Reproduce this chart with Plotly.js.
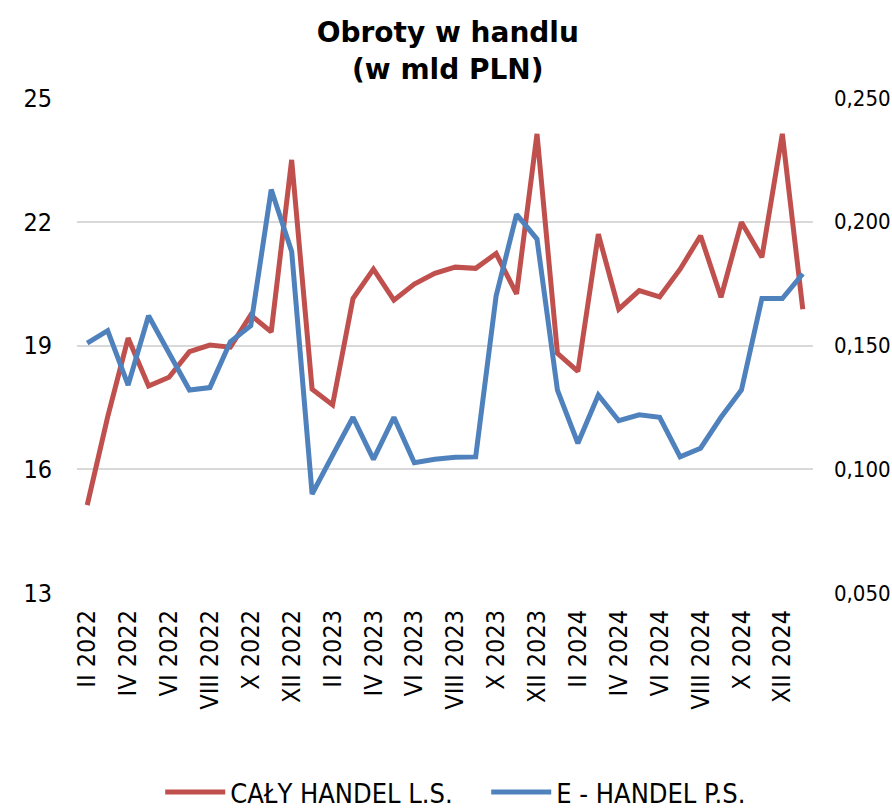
<!DOCTYPE html>
<html>
<head>
<meta charset="utf-8">
<script src="https://cdn.plot.ly/plotly-3.0.1.min.js"></script>
<style>html,body{margin:0;padding:0;background:#fff;}#chart{width:892px;height:811px;}</style>
</head>
<body>
<div id="chart"></div>
<script>
var months = ["II 2022","III 2022","IV 2022","V 2022","VI 2022","VII 2022","VIII 2022","IX 2022","X 2022","XI 2022","XII 2022",
  "I 2023","II 2023","III 2023","IV 2023","V 2023","VI 2023","VII 2023","VIII 2023","IX 2023","X 2023","XI 2023","XII 2023",
  "I 2024","II 2024","III 2024","IV 2024","V 2024","VI 2024","VII 2024","VIII 2024","IX 2024","X 2024","XI 2024","XII 2024",
  "I 2025"];
var calyHandel = [15.13,17.27,19.18,18.02,18.23,18.85,19.01,18.96,19.74,19.33,23.50,
  17.94,17.56,20.14,20.85,20.10,20.49,20.75,20.90,20.87,21.23,20.25,24.13,
  18.81,18.37,21.70,19.88,20.33,20.18,20.85,21.66,20.17,21.99,21.14,24.13,
  19.88];
var eHandel = [0.151,0.156,0.134,0.162,0.147,0.132,0.133,0.1515,0.158,0.213,0.188,
  0.090,0.1056,0.121,0.104,0.121,0.1026,0.104,0.1048,0.105,0.170,0.203,0.193,
  0.132,0.1105,0.130,0.1196,0.122,0.121,0.105,0.1085,0.121,0.132,0.169,0.169,
  0.179];
var tickLabels = months.filter(function(m, i){ return i % 2 === 0 && i < 35; });
var leftTicks = [13,16,19,22,25];
var rightTicks = [0.05,0.10,0.15,0.20,0.25];

var tickFamily = "DejaVu Sans Condensed, DejaVu Sans, sans-serif";
var legendFont = {family: "Liberation Sans Narrow, DejaVu Sans Condensed, sans-serif", size: 27, color: "#000"};

var traces = [
  {x: months, y: calyHandel, type: "scatter", mode: "lines", name: "CAŁY HANDEL L.S.",
   line: {color: "#C0504D", width: 5}, yaxis: "y"},
  {x: months, y: eHandel, type: "scatter", mode: "lines", name: "E - HANDEL P.S.",
   line: {color: "#4F81BD", width: 5}, yaxis: "y2"}
];

var layout = {
  width: 892, height: 811,
  margin: {l: 77, r: 79, t: 98, b: 218, autoexpand: false},
  paper_bgcolor: "#fff", plot_bgcolor: "#fff",
  separators: ", ",
  showlegend: true,
  title: {text: "<b>Obroty w handlu<br>(w mld PLN)</b>", x: 0.502, xanchor: "center", y: 0.948, yanchor: "top",
          font: {family: "DejaVu Sans, sans-serif", size: 28, color: "#000"}},
  xaxis: {type: "category", range: [-0.5, 35.5], tickmode: "array", tickvals: tickLabels, ticktext: tickLabels,
          tickangle: -90, tickfont: {family: tickFamily, size: 25, color: "#000"}, showgrid: false, zeroline: false, showline: false,
          ticks: "", ticklabelstandoff: 11, automargin: false, fixedrange: true},
  yaxis: {range: [13, 25], tickmode: "array", tickvals: leftTicks, tickfont: {family: tickFamily, size: 25, color: "#000"},
          showgrid: true, gridcolor: "#d9d9d9", gridwidth: 2, zeroline: false, showline: false,
          ticks: "", ticklabelstandoff: 24, automargin: false},
  yaxis2: {range: [0.05, 0.25], overlaying: "y", side: "right", tickmode: "array", tickvals: rightTicks,
           tickformat: ".3f", tickfont: {family: tickFamily, size: 22, color: "#000"}, showgrid: false, zeroline: false, showline: false,
           ticks: "", ticklabelstandoff: 20, automargin: false},
  legend: {orientation: "h", x: 0.556, xanchor: "center", y: -0.403, yanchor: "middle",
           font: legendFont, itemwidth: 60, entrywidth: 251, bgcolor: "rgba(0,0,0,0)"}
};

Plotly.newPlot("chart", traces, layout, {displayModeBar: false, staticPlot: true});
</script>
</body>
</html>
